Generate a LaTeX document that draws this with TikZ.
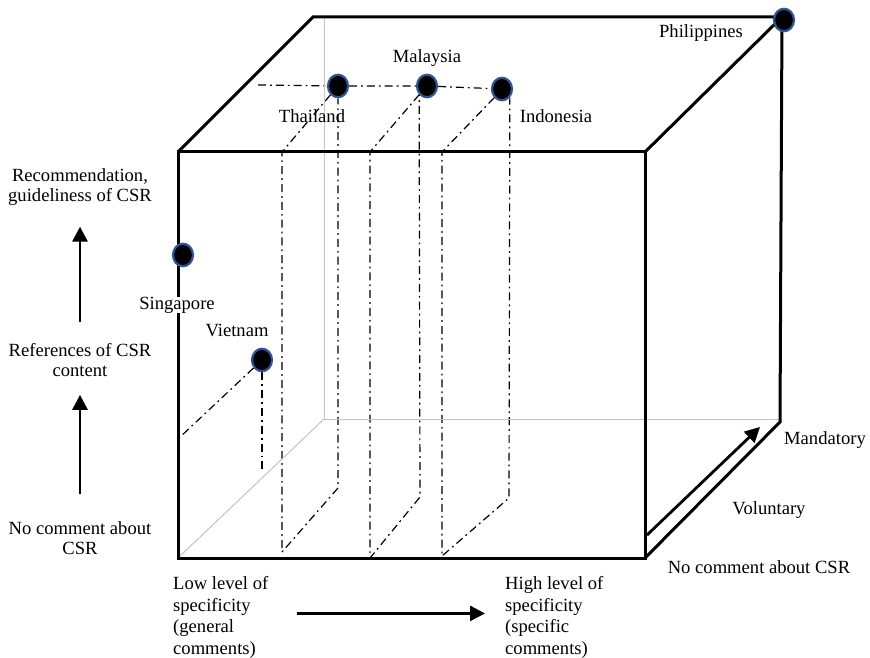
\documentclass[tikz,border=0pt]{standalone}
\usepackage{fontspec}
\setmainfont{Liberation Serif}
\usepackage{xcolor}
\usepackage{tikz}
\definecolor{dotborder}{RGB}{47, 85, 151}
\definecolor{hiddencolor}{RGB}{195, 195, 195}
\usetikzlibrary{shapes.geometric, arrows.meta, positioning, backgrounds}

\begin{document}
\begin{tikzpicture}[
    x=1pt, y=-1pt,
    cubeedge/.style={line width=3pt},
    hiddenedge/.style={line width=1pt, hiddencolor},
    projline/.style={line width=1.2pt, dash pattern=on 8pt off 4pt on 1.8pt off 4pt},
    countrydot/.style={ellipse, draw=dotborder, line width=2.2pt, fill=black, minimum width=20pt, minimum height=22.5pt, inner sep=0pt},
    lbl/.style={font=\fontsize{18.6}{20}\selectfont, align=center, inner sep=0pt},
    speclbl/.style={font=\fontsize{18.6}{21.8}\selectfont, align=left, inner sep=0pt, anchor=north west},
    axisarrow/.style={-{Triangle[length=15pt, width=15pt]}, line width=2.8pt}
]
    \useasboundingbox (0,0) rectangle (870,658);

    % Cube
    \coordinate (f1) at (178,152);
    \coordinate (f2) at (645,152);
    \coordinate (f3) at (645,558);
    \coordinate (f4) at (178,558);
    \coordinate (b1) at (313,17);
    \coordinate (b2) at (782,17);
    \coordinate (b3) at (780,422);
    \coordinate (h1) at (324,17);
    \coordinate (h3) at (780,419);
    \coordinate (h4) at (324,419);

    \draw[hiddenedge] (h1) -- (h4) -- (h3);
    \draw[hiddenedge] (f4) -- (h4);
    \draw[cubeedge] (f1) rectangle (f3);
    \draw[cubeedge] (f1) -- (b1) -- (b2) -- (f2);
    \draw[cubeedge] (b2) -- (b3) -- (f3);

    % Countries
    \node[countrydot] (thai) at (338,86) {};
    \node[countrydot] (malay) at (427,86) {};
    \node[countrydot] (indo) at (502,89) {};
    \node[countrydot] (phil) at (784,20) {};
    \node[countrydot] (sing) at (183,255) {};
    \node[countrydot] (viet) at (262,360) {};

    \node[lbl] (thailbl) at (312,116) {Thailand};
    \node[lbl] (malaylbl) at (427,58) {Malaysia};
    \node[lbl] (indolbl) at (556,116) {Indonesia};
    \node[lbl] (phillbl) at (701,33) {Philippines};
    \node[lbl, fill=white] (singlbl) at (177,305) {Singapore};
    \node[lbl] (vietlbl) at (237,330) {Vietnam};

    % Projections
    \coordinate (hzstart) at (258,85);
    \coordinate (thf1) at (282,152);
    \coordinate (thf2) at (282,552);
    \coordinate (thb2) at (338,488);
    \coordinate (mlf1) at (370,152);
    \coordinate (mlf2) at (370,558);
    \coordinate (mlb2) at (420,497);
    \coordinate (inf1) at (442,152);
    \coordinate (inf2) at (442,556);
    \coordinate (inb2) at (509,498);
    \coordinate (vtf) at (178,439);
    \coordinate (vtb) at (262,472);
    \begin{scope}[on background layer]
        \draw[projline] (hzstart) -- (thai) -- (malay) -- (indo);
        \draw[projline] (thai) -- (thf1) -- (thf2) -- (thb2) -- (thai);
        \draw[projline] (malay.south west) -- (mlf1) -- (mlf2) -- (mlb2) -- (malay.south west);
        \draw[projline] (indo.south west) -- (inf1) -- (inf2) -- (inb2) -- (indo.south east);
        \draw[projline] (viet) -- (vtf);
        \draw[projline] (viet) -- (vtb);
    \end{scope}

    % Vertical axis
    \node[lbl] (recom) at (80,187) {Recommendation,\\guideliness of CSR};
    \node[lbl] (refer) at (80,360) {References of CSR\\content};
    \node[lbl] (nocom) at (80,538) {No comment about\\CSR};
    \draw[axisarrow, shorten <=27pt, shorten >=18pt] (nocom) -- (refer);
    \draw[axisarrow, shorten <=21pt, shorten >=21pt] (refer) -- (recom);

    % Horizontal axis
    \node[speclbl] (lowspec) at (173,576) {Low level of\\specificity\\(general\\comments)};
    \node[speclbl] (highspec) at (505,576) {High level of\\specificity\\(specific\\comments)};
    \draw[axisarrow, shorten <=29pt, shorten >=20pt] ([yshift=4pt]lowspec.east) -- ([yshift=4pt]highspec.west);

    % Depth axis
    \node[lbl] (mand) at (825,440) {Mandatory};
    \node[lbl] (volun) at (769,510) {Voluntary};
    \node[lbl] (nocsr) at (759,567) {No comment about CSR};
    \coordinate (voltail) at (647,535);
    \coordinate (volhead) at (760,427);
    \draw[axisarrow] (voltail) -- (volhead);
\end{tikzpicture}
\end{document}
